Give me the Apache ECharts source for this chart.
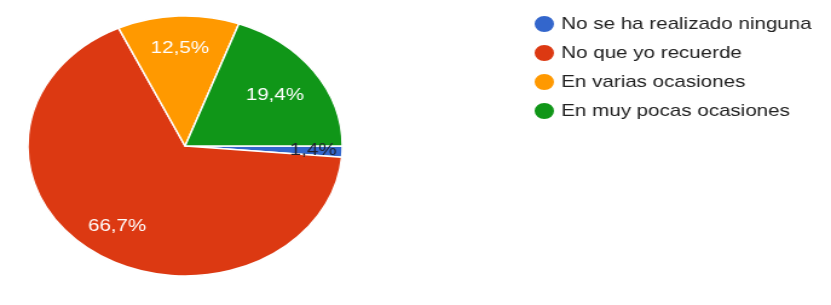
<!DOCTYPE html>
<html>
<head>
<meta charset="utf-8">
<script src="https://cdn.jsdelivr.net/npm/echarts@6/dist/echarts.min.js"></script>
<style>
html,body{margin:0;padding:0;background:#fff;overflow:hidden;width:831px;height:305px;}
#wrap{width:831px;height:305px;overflow:hidden;}
#chart{width:687px;height:305px;transform:scaleX(1.2096);transform-origin:0 0;}
</style>
</head>
<body>
<div id="wrap"><div id="chart"></div></div>
<script>
const categories = ['No se ha realizado ninguna', 'No que yo recuerde', 'En varias ocasiones', 'En muy pocas ocasiones'];
const counts = [1, 48, 9, 14];
const percentLabels = ['1,4%', '66,7%', '12,5%', '19,4%'];
const colors = ['#3366cc', '#dc3912', '#ff9900', '#109618'];

const chart = echarts.init(document.getElementById('chart'), null, {renderer: 'canvas'});
const font = 'Arial, "Liberation Sans", sans-serif';

const mainData = categories.map((c, i) => ({
  name: c, value: counts[i], itemStyle: {color: colors[i]}
}));
const labelData = categories.map((c, i) => ({
  name: c, value: counts[i],
  label: i === 0 ? {color: '#1f1f2e', offset: [8, 0]} : (i === 3 ? {offset: [-6, 6]} : {})
}));

chart.setOption({
  animation: false,
  backgroundColor: '#fff',
  legend: {
    data: categories,
    orient: 'vertical',
    left: 435,
    top: 9,
    icon: 'circle',
    itemWidth: 18,
    itemHeight: 18,
    itemGap: 9,
    textStyle: {fontSize: 17, color: '#222', fontFamily: font},
    selectedMode: false
  },
  series: [
    {
      type: 'pie',
      center: [153, 146],
      radius: [0, 130],
      startAngle: 0,
      clockwise: true,
      silent: true,
      label: {show: false},
      labelLine: {show: false},
      itemStyle: {borderColor: '#fff', borderWidth: 1.5},
      data: mainData
    },
    {
      type: 'pie',
      center: [153, 146],
      radius: [0, 190],
      startAngle: 0,
      clockwise: true,
      silent: true,
      z: 5,
      legendHoverLink: false,
      itemStyle: {color: 'rgba(0,0,0,0)', borderWidth: 0},
      label: {
        show: true,
        position: 'inside',
        fontSize: 17,
        fontFamily: font,
        color: '#fff',
        formatter: p => percentLabels[p.dataIndex]
      },
      labelLine: {show: false},
      emphasis: {disabled: true},
      data: labelData
    }
  ]
});
</script>
</body>
</html>
